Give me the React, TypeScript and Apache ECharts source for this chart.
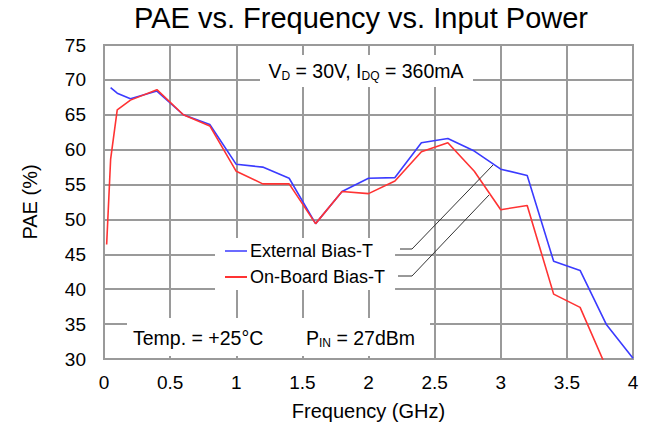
import React, { useEffect, useRef } from "react";
import * as echarts from "echarts";

const freqExternal = [0.05, 0.1, 0.2, 0.4, 0.6, 0.8, 1.0, 1.2, 1.4, 1.6, 1.8, 2.0, 2.2, 2.4, 2.6, 2.8, 3.0, 3.2, 3.4, 3.6, 3.8, 4.0];
const paeExternal = [68.9, 68.1, 67.3, 68.4, 65.0, 63.6, 57.9, 57.5, 55.9, 49.4, 54.0, 55.9, 56.0, 61.0, 61.6, 59.8, 57.2, 56.3, 44.0, 42.7, 34.9, 30.1];
const freqOnBoard = [0.02, 0.05, 0.1, 0.2, 0.4, 0.6, 0.8, 1.0, 1.2, 1.4, 1.6, 1.8, 2.0, 2.2, 2.4, 2.6, 2.8, 3.0, 3.2, 3.4, 3.6, 3.8];
const paeOnBoard = [46.4, 58.6, 65.7, 67.1, 68.6, 65.0, 63.4, 56.9, 55.1, 55.1, 49.4, 54.0, 53.7, 55.5, 59.7, 61.0, 56.9, 51.4, 52.0, 39.3, 37.4, 28.7];

const seriesNames = ["External Bias-T", "On-Board Bias-T"];
const xTicks = { min: 0, max: 4, interval: 0.5 };
const yTicks = { min: 30, max: 75, interval: 5 };

const FONT = "Arial, 'Liberation Sans', sans-serif";

export default function App() {
  const ref = useRef<HTMLDivElement>(null);
  useEffect(() => {
    if (!ref.current) return;
    const chart = echarts.init(ref.current, null, { renderer: "svg" });
    const gridColor = "#9a9a9a";
    chart.setOption({
      animation: false,
      backgroundColor: "#fff",
      textStyle: { fontFamily: FONT },
      grid: {
        left: 104,
        right: 19,
        top: 45,
        bottom: 75,
        show: true,
        borderColor: gridColor,
        borderWidth: 2,
        containLabel: false,
      },
      xAxis: {
        type: "value",
        min: xTicks.min,
        max: xTicks.max,
        interval: xTicks.interval,
        name: "Frequency (GHz)",
        nameLocation: "middle",
        nameGap: 42,
        nameTextStyle: { fontSize: 20, color: "#000", fontFamily: FONT },
        axisLine: { show: false },
        axisTick: { show: false },
        axisLabel: { fontSize: 19, color: "#000", margin: 14, fontFamily: FONT },
        splitLine: { show: true, lineStyle: { color: gridColor, width: 2 } },
      },
      yAxis: {
        type: "value",
        min: yTicks.min,
        max: yTicks.max,
        interval: yTicks.interval,
        name: "PAE (%)",
        nameLocation: "middle",
        nameGap: 64,
        nameTextStyle: { fontSize: 20, color: "#000", fontFamily: FONT },
        axisLine: { show: false },
        axisTick: { show: false },
        axisLabel: { fontSize: 19, color: "#000", margin: 18, fontFamily: FONT },
        splitLine: { show: true, lineStyle: { color: gridColor, width: 2 } },
      },
      legend: {
        show: true,
        orient: "vertical",
        left: 215,
        top: 238,
        padding: [4, 10, 4, 10],
        backgroundColor: "#fff",
        itemGap: 8,
        itemWidth: 22,
        itemHeight: 2,
        icon: "rect",
        textStyle: { fontSize: 18, color: "#000", fontFamily: FONT, padding: [0, 0, 0, -2] },
        data: seriesNames,
      },
      series: [
        {
          name: seriesNames[0],
          type: "line",
          symbol: "none",
          clip: true,
          z: 3,
          lineStyle: { color: "#3b3bff", width: 1.6 },
          itemStyle: { color: "#6b6bff" },
          data: freqExternal.map((f, i) => [f, paeExternal[i]]),
        },
        {
          name: seriesNames[1],
          type: "line",
          symbol: "none",
          clip: true,
          z: 4,
          lineStyle: { color: "#ff3333", width: 1.6 },
          itemStyle: { color: "#ff3333" },
          data: freqOnBoard.map((f, i) => [f, paeOnBoard[i]]),
        },
      ],
      graphic: [
        {
          type: "text",
          left: 134,
          top: 3,
          style: { text: "PAE vs. Frequency vs. Input Power", fontSize: 29, fill: "#000", fontFamily: FONT },
        },
        { type: "rect", shape: { x: 260, y: 55, width: 213, height: 32 }, style: { fill: "#fff" }, z: 10 },
        {
          type: "text",
          x: 366,
          y: 71,
          z: 11,
          style: {
            text: "{n|V}{s|D}{n| = 30V, I}{s|DQ}{n| = 360mA}",
            align: "center",
            verticalAlign: "middle",
            fontFamily: FONT,
            rich: {
              n: { fontSize: 19.5, fill: "#000", fontFamily: FONT },
              s: { fontSize: 12, fill: "#000", fontFamily: FONT, padding: [10, 0, 0, 0] },
            },
          },
        },
        { type: "rect", shape: { x: 127, y: 318, width: 303, height: 38 }, style: { fill: "#fff" }, z: 10 },
        {
          type: "text",
          x: 133,
          y: 338,
          z: 11,
          style: { text: "Temp. = +25°C", fontSize: 19.5, fill: "#000", fontFamily: FONT, verticalAlign: "middle" },
        },
        {
          type: "text",
          x: 306,
          y: 338,
          z: 11,
          style: {
            text: "{n|P}{s|IN}{n| = 27dBm}",
            verticalAlign: "middle",
            fontFamily: FONT,
            rich: {
              n: { fontSize: 19.5, fill: "#000", fontFamily: FONT },
              s: { fontSize: 12, fill: "#000", fontFamily: FONT, padding: [10, 0, 0, 0] },
            },
          },
        },
        {
          type: "polyline",
          z: 12,
          shape: { points: [[400, 249], [412, 249], [493, 165]] },
          style: { stroke: "#333", lineWidth: 1, fill: null },
        },
        {
          type: "polyline",
          z: 12,
          shape: { points: [[398, 276], [412, 276], [489, 195]] },
          style: { stroke: "#333", lineWidth: 1, fill: null },
        },
      ],
    });
    return () => chart.dispose();
  }, []);
  return <div ref={ref} style={{ width: 652, height: 434, position: "absolute", left: 0, top: 0 }} />;
}
